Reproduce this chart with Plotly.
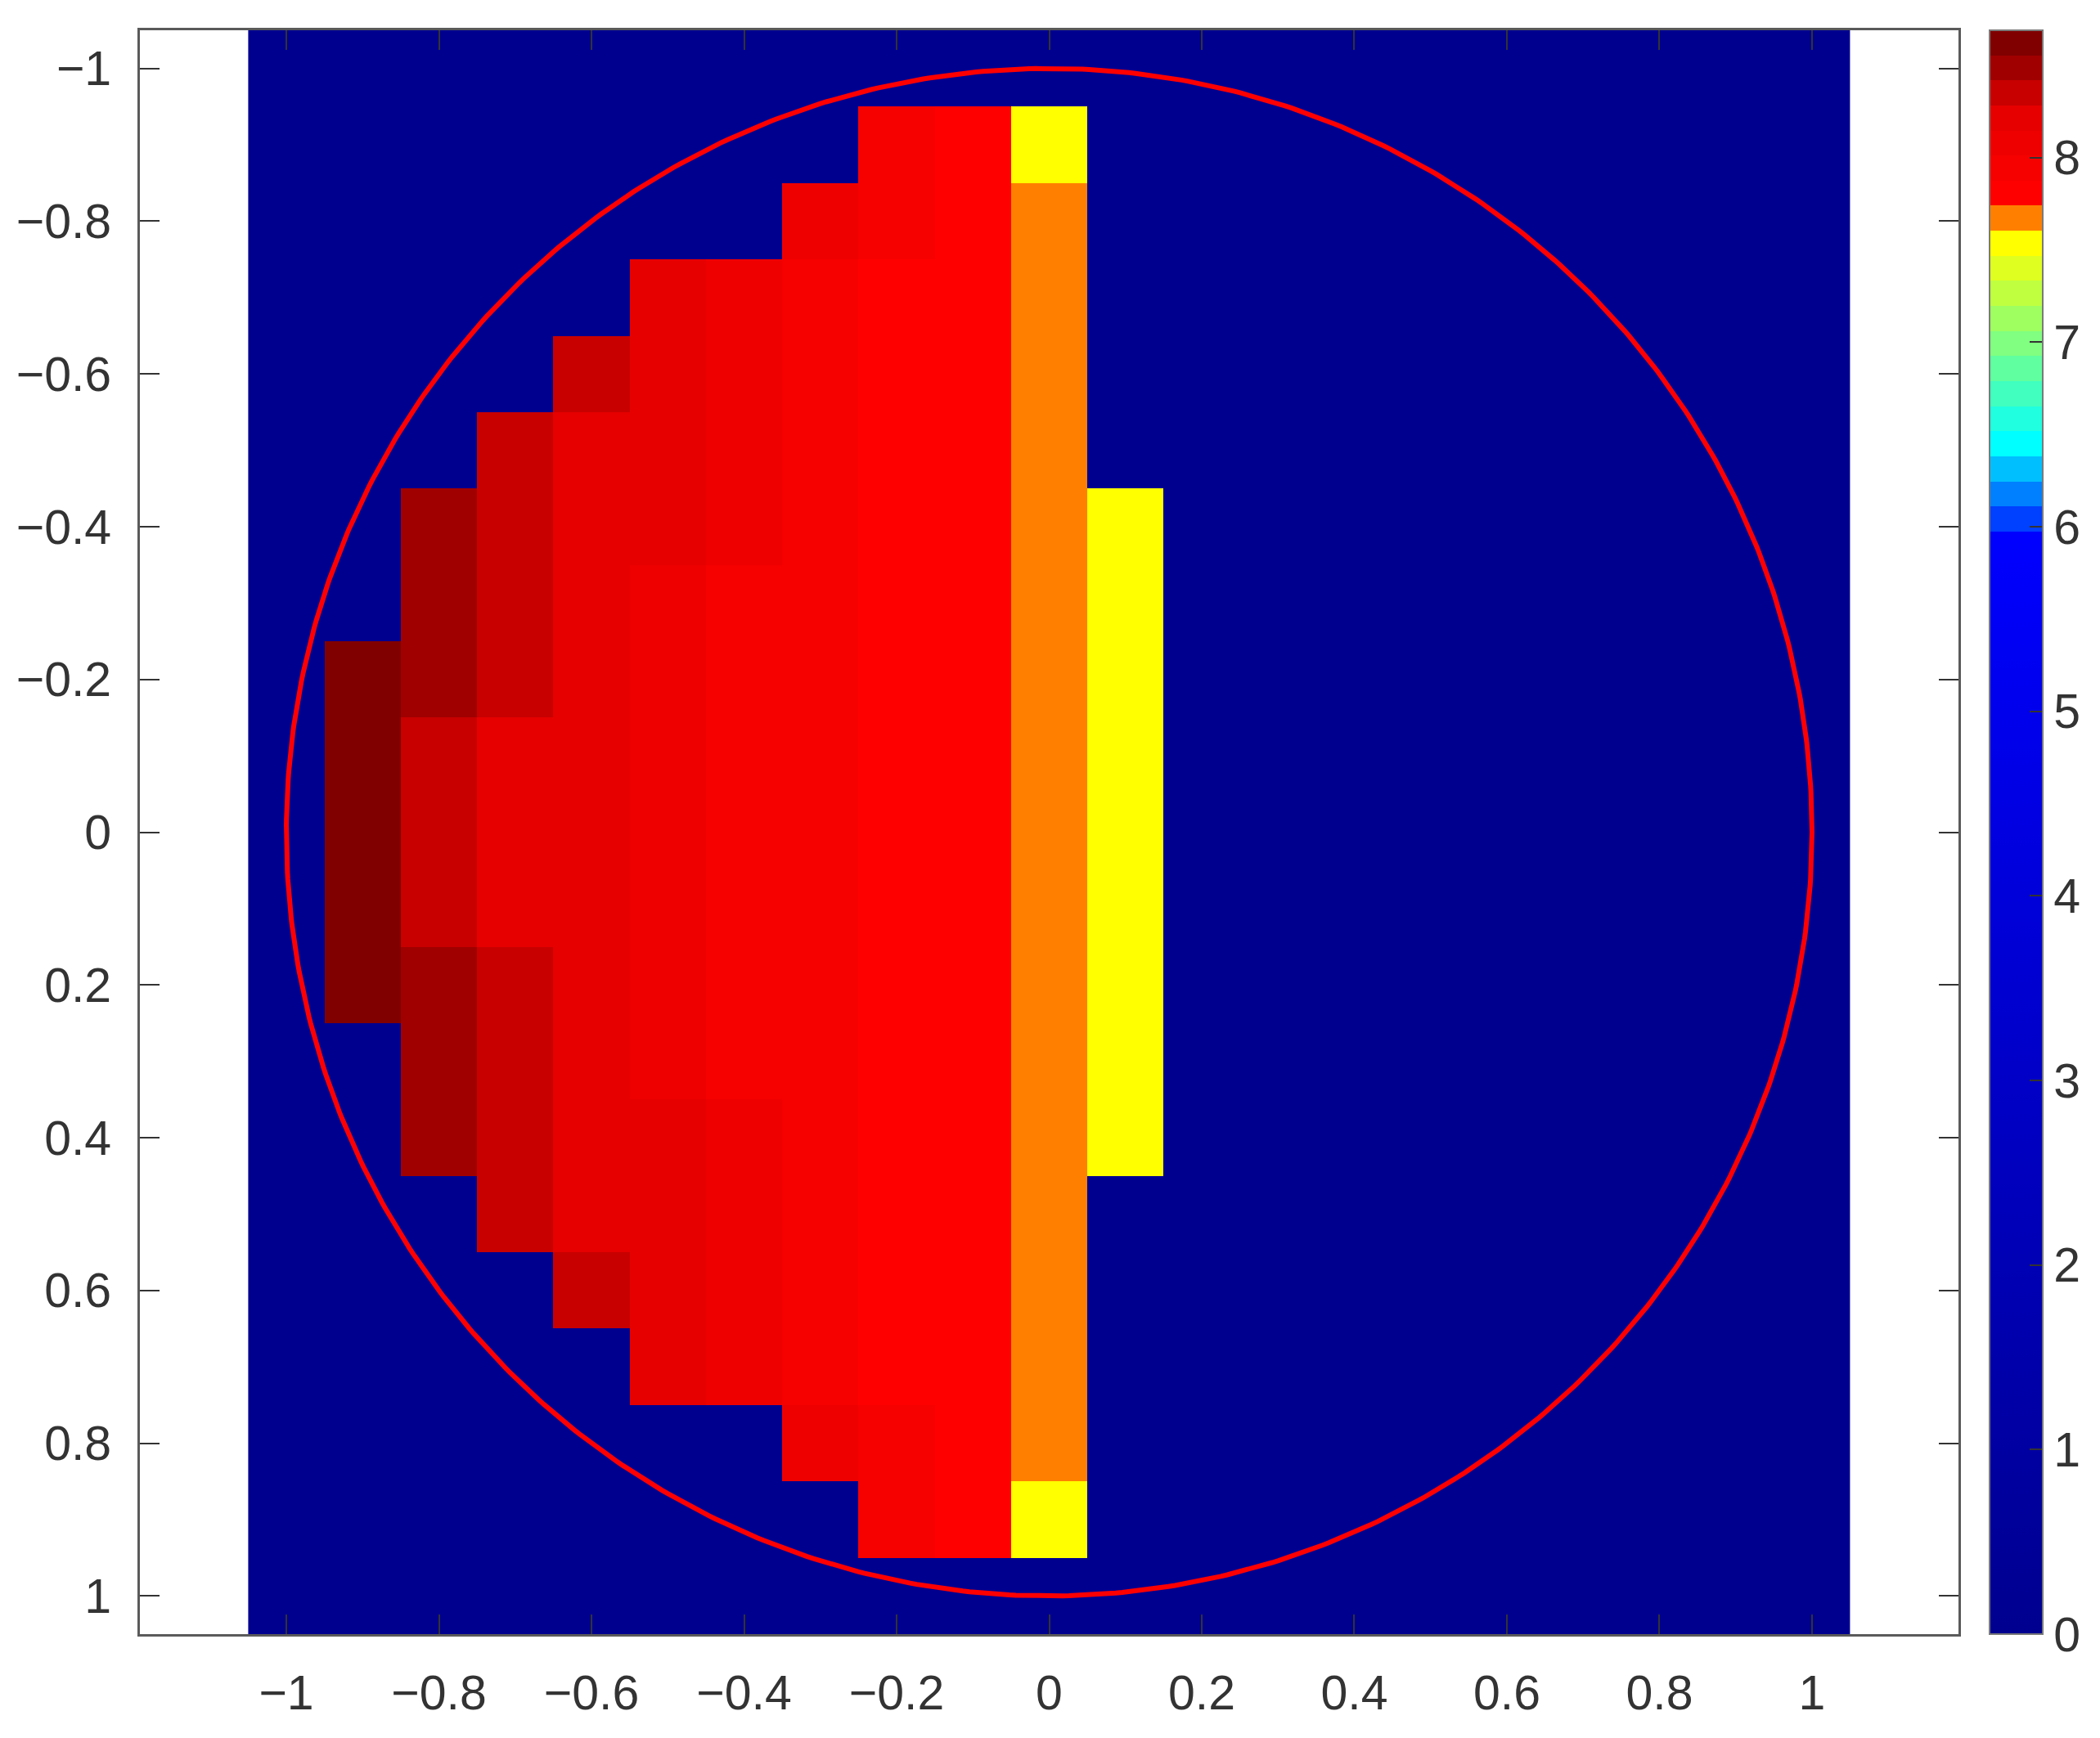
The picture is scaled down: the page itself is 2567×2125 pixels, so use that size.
import numpy as np
import plotly.graph_objects as go

# grid cell centres (21 x 21)
x_centers = [-1.0, -0.9, -0.8, -0.7, -0.6, -0.5, -0.4, -0.3, -0.2, -0.1, 0.0,
             0.1, 0.2, 0.3, 0.4, 0.5, 0.6, 0.7, 0.8, 0.9, 1.0]
y_centers = [-1.0, -0.9, -0.8, -0.7, -0.6, -0.5, -0.4, -0.3, -0.2, -0.1, 0.0,
             0.1, 0.2, 0.3, 0.4, 0.5, 0.6, 0.7, 0.8, 0.9, 1.0]

# non-zero columns, values listed from y=-1 (top) to y=1 (bottom)
col_neg09 = [0, 0, 0, 0, 0, 0, 0, 0, 8.62, 8.62, 8.62, 8.62, 8.62, 0, 0, 0, 0, 0, 0, 0, 0]
col_neg08 = [0, 0, 0, 0, 0, 0, 8.49, 8.49, 8.49, 8.35, 8.35, 8.35, 8.49, 8.49, 8.49, 0, 0, 0, 0, 0, 0]
col_neg07 = [0, 0, 0, 0, 0, 8.35, 8.35, 8.35, 8.35, 8.22, 8.22, 8.22, 8.35, 8.35, 8.35, 8.35, 0, 0, 0, 0, 0]
col_neg06 = [0, 0, 0, 0, 8.35, 8.22, 8.22, 8.22, 8.22, 8.22, 8.22, 8.22, 8.22, 8.22, 8.22, 8.22, 8.35, 0, 0, 0, 0]
col_neg05 = [0, 0, 0, 8.22, 8.22, 8.22, 8.22, 8.08, 8.08, 8.08, 8.08, 8.08, 8.08, 8.08, 8.22, 8.22, 8.22, 8.22, 0, 0, 0]
col_neg04 = [0, 0, 0, 8.08, 8.08, 8.08, 8.08, 7.94, 7.94, 7.94, 7.94, 7.94, 7.94, 7.94, 8.08, 8.08, 8.08, 8.08, 0, 0, 0]
col_neg03 = [0, 0, 8.08, 7.94, 7.94, 7.94, 7.94, 7.94, 7.94, 7.94, 7.94, 7.94, 7.94, 7.94, 7.94, 7.94, 7.94, 7.94, 8.08, 0, 0]
col_neg02 = [0, 7.94, 7.94, 7.81, 7.81, 7.81, 7.81, 7.81, 7.81, 7.81, 7.81, 7.81, 7.81, 7.81, 7.81, 7.81, 7.81, 7.81, 7.94, 7.94, 0]
col_neg01 = [0, 7.81, 7.81, 7.81, 7.81, 7.81, 7.81, 7.81, 7.81, 7.81, 7.81, 7.81, 7.81, 7.81, 7.81, 7.81, 7.81, 7.81, 7.81, 7.81, 0]
col_zero = [0, 7.54, 7.67, 7.67, 7.67, 7.67, 7.67, 7.67, 7.67, 7.67, 7.67, 7.67, 7.67, 7.67, 7.67, 7.67, 7.67, 7.67, 7.67, 7.54, 0]
col_pos01 = [0, 0, 0, 0, 0, 0, 7.54, 7.54, 7.54, 7.54, 7.54, 7.54, 7.54, 7.54, 7.54, 0, 0, 0, 0, 0, 0]

filled_columns = [(-0.9, col_neg09), (-0.8, col_neg08), (-0.7, col_neg07), (-0.6, col_neg06),
                  (-0.5, col_neg05), (-0.4, col_neg04), (-0.3, col_neg03), (-0.2, col_neg02),
                  (-0.1, col_neg01), (0.0, col_zero), (0.1, col_pos01)]

z_min, z_max = 0.0, 8.69
circle_radius = 1.0

tick_vals = [-1, -0.8, -0.6, -0.4, -0.2, 0, 0.2, 0.4, 0.6, 0.8, 1]
tick_text = ['\u22121', '\u22120.8', '\u22120.6', '\u22120.4', '\u22120.2', '0',
             '0.2', '0.4', '0.6', '0.8', '1']
cbar_ticks = [0, 1, 2, 3, 4, 5, 6, 7, 8]

z = np.zeros((len(y_centers), len(x_centers)))
for xv, col in filled_columns:
    z[:, x_centers.index(xv)] = col

# colormap: smooth navy->blue, then stepped jet-like bands (64 levels total)
n_levels = 64
band_start = 44
band_colors = ['#0040FF', '#0080FF', '#00BFFF', '#00FFFF', '#20FFDF', '#40FFBF', '#60FF9F',
               '#80FF80', '#9FFF60', '#BFFF40', '#DFFF20', '#FFFF00', '#FF8000', '#FF0000',
               '#F60000', '#EE0000', '#E60000', '#C80000', '#A00000', '#800000']
colorscale = [[0.0, '#00008F'], [band_start / n_levels, '#0000FF']]
for i, c in enumerate(band_colors):
    k = band_start + i
    colorscale.append([k / n_levels, c])
    colorscale.append([min((k + 1) / n_levels, 1.0), c])

font = dict(family='Liberation Sans, Arial, sans-serif', size=59, color='#333333')

fig = go.Figure()
fig.add_trace(go.Heatmap(
    x=x_centers, y=y_centers, z=z,
    zmin=z_min, zmax=z_max, colorscale=colorscale, zsmooth=False,
    colorbar=dict(
        x=1.0172, xanchor='left', xpad=0, ypad=0, y=0.5, yanchor='middle',
        len=1, lenmode='fraction', thickness=65,
        outlinecolor='#7a7a7a', outlinewidth=2,
        tickvals=cbar_ticks, ticks='inside', ticklen=17, tickwidth=2, tickcolor='#333333',
        tickprefix='\u2002\u2009', tickfont=font,
    ),
))

theta = np.linspace(0, 2 * np.pi, 721)
fig.add_trace(go.Scatter(
    x=circle_radius * np.cos(theta), y=circle_radius * np.sin(theta),
    mode='lines', line=dict(color='#FF0000', width=6), showlegend=False, hoverinfo='skip',
))

axis_style = dict(
    showgrid=False, zeroline=False, showline=True, linecolor='#5a5a5a', linewidth=3,
    mirror='ticks', ticks='inside', ticklen=24, tickwidth=2, tickcolor='#333333',
    tickvals=tick_vals, ticktext=tick_text, tickfont=font,
)

# page body adds 8px, so margins are trimmed to keep the plot box in place
fig.update_layout(
    width=2567, height=2125,
    margin=dict(l=160, r=181, t=29, b=135),
    paper_bgcolor='white', plot_bgcolor='white',
    showlegend=False,
    xaxis=dict(range=[-1.192, 1.192], ticklabelstandoff=18, **axis_style),
    yaxis=dict(range=[1.05, -1.05], ticklabelstandoff=20, **axis_style),
)

fig.write_html("out.html")
